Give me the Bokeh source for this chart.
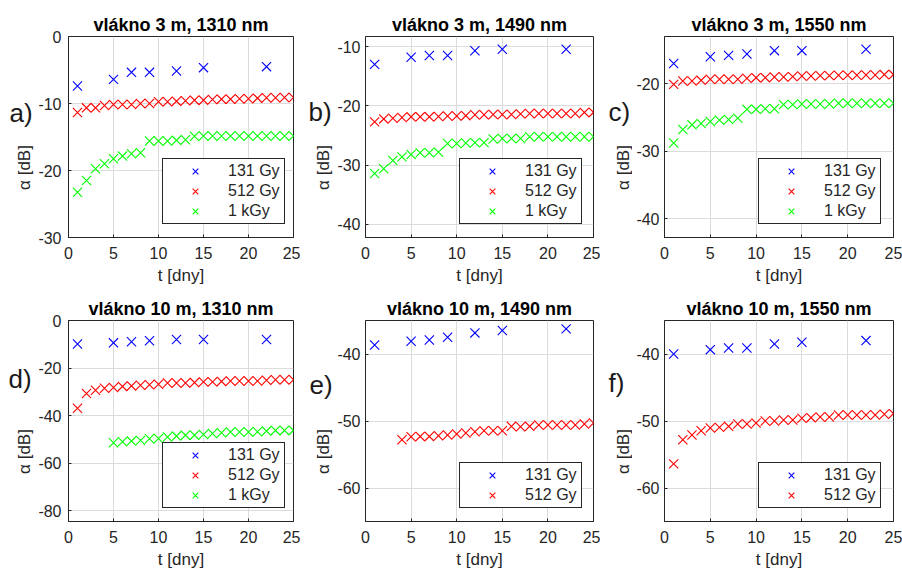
import math
from bokeh.plotting import figure
from bokeh.layouts import gridplot
from bokeh.models import FixedTicker, Range1d
from bokeh.core.properties import value
from bokeh.embed import file_html
from bokeh.resources import INLINE

# ---- data ----
days_blue = [1, 5, 7, 9, 12, 15, 22]
days_all = [1, 2, 3, 4, 5, 6, 7, 8, 9, 10, 11, 12, 13, 14, 15, 16, 17, 18, 19, 20, 21, 22, 23, 24, 25]
days_from5 = [5, 6, 7, 8, 9, 10, 11, 12, 13, 14, 15, 16, 17, 18, 19, 20, 21, 22, 23, 24, 25]
days_from4 = [4, 5, 6, 7, 8, 9, 10, 11, 12, 13, 14, 15, 16, 17, 18, 19, 20, 21, 22, 23, 24, 25]

a_blue = [-7.4, -6.4, -5.35, -5.35, -5.15, -4.65, -4.5]
a_red = [-11.35, -10.65, -10.65, -10.3, -10.15, -10.15, -10.15, -10.0, -10.0, -9.75, -9.75, -9.65, -9.6,
         -9.5, -9.5, -9.4, -9.35, -9.35, -9.3, -9.3, -9.2, -9.15, -9.15, -9.1, -9.1]
a_green = [-23.25, -21.5, -19.75, -19.0, -18.25, -17.85, -17.5, -17.35, -15.6, -15.6, -15.6, -15.5, -15.4,
           -14.9, -14.85, -14.85, -14.85, -14.85, -14.85, -14.85, -14.85, -14.85, -14.85, -14.85, -14.85]

b_blue = [-13.0, -11.8, -11.5, -11.5, -10.7, -10.45, -10.45]
b_red = [-22.7, -22.2, -22.1, -21.95, -21.85, -21.85, -21.85, -21.8, -21.7, -21.7, -21.65, -21.5, -21.5,
         -21.45, -21.45, -21.45, -21.35, -21.3, -21.3, -21.3, -21.3, -21.3, -21.3, -21.1, -21.1]
b_green = [-31.4, -30.6, -29.2, -28.6, -28.2, -27.9, -27.9, -27.8, -26.35, -26.35, -26.25, -26.2, -26.2,
           -25.6, -25.5, -25.5, -25.5, -25.2, -25.2, -25.2, -25.2, -25.2, -25.2, -25.2, -25.2]

c_blue = [-17.0, -16.0, -15.8, -15.6, -15.1, -15.1, -14.9]
c_red = [-20.1, -19.6, -19.6, -19.5, -19.35, -19.35, -19.35, -19.35, -19.2, -19.1, -19.1, -19.0, -19.0,
         -18.95, -18.85, -18.85, -18.8, -18.8, -18.75, -18.75, -18.75, -18.7, -18.7, -18.65, -18.65]
c_green = [-28.8, -26.8, -26.1, -25.9, -25.6, -25.4, -25.3, -25.1, -23.8, -23.8, -23.7, -23.7, -23.1,
           -23.1, -23.0, -23.0, -23.0, -23.0, -22.9, -22.9, -22.9, -22.9, -22.9, -22.9, -22.9]

d_blue = [-9.9, -9.4, -8.9, -8.5, -8.0, -8.0, -8.0]
d_red = [-36.9, -30.7, -29.3, -28.5, -28.2, -27.7, -27.5, -27.2, -27.0, -26.8, -26.3, -26.3, -26.3,
         -26.1, -25.8, -25.8, -25.6, -25.4, -25.4, -25.4, -25.4, -25.1, -24.9, -24.9, -24.9]
d_green = [-51.4, -51.0, -50.7, -50.4, -49.7, -49.6, -49.0, -48.6, -48.2, -48.2, -47.9, -47.5, -47.2,
           -46.9, -46.9, -46.9, -46.8, -46.5, -46.2, -46.2, -46.2]

e_blue = [-38.65, -38.1, -37.9, -37.5, -36.85, -36.5, -36.25]
e_red = [-52.8, -52.35, -52.3, -52.3, -52.2, -52.1, -51.95, -51.8, -51.6, -51.45, -51.45, -51.45,
         -50.8, -50.85, -50.8, -50.6, -50.6, -50.6, -50.6, -50.6, -50.45, -50.3]

f_blue = [-40.0, -39.35, -39.1, -39.1, -38.5, -38.25, -38.0]
f_red = [-56.4, -52.8, -52.1, -51.45, -51.05, -50.95, -50.8, -50.45, -50.45, -50.3, -50.0, -50.0, -49.85,
         -49.85, -49.6, -49.5, -49.4, -49.4, -49.1, -49.1, -49.1, -49.1, -49.1, -49.0, -48.9]

titles = ["vlákno 3 m, 1310 nm", "vlákno 3 m, 1490 nm", "vlákno 3 m, 1550 nm",
          "vlákno 10 m, 1310 nm", "vlákno 10 m, 1490 nm", "vlákno 10 m, 1550 nm"]
panel_letters = ["a)", "b)", "c)", "d)", "e)", "f)"]
series_labels = ["131 Gy", "512 Gy", "1 kGy"]
x_label = "t [dny]"
y_label = "α [dB]"
x_ticks = [0, 5, 10, 15, 20, 25]
y_ranges = [(-30, 0), (-42.2, -8.3), (-42.8, -13.0), (-84.5, 0), (-65, -35), (-65, -35)]
y_ticks = [[-30, -20, -10, 0], [-40, -30, -20, -10], [-40, -30, -20],
           [-80, -60, -40, -20, 0], [-60, -50, -40], [-60, -50, -40]]

panels_data = [
    [(days_blue, a_blue), (days_all, a_red), (days_all, a_green)],
    [(days_blue, b_blue), (days_all, b_red), (days_all, b_green)],
    [(days_blue, c_blue), (days_all, c_red), (days_all, c_green)],
    [(days_blue, d_blue), (days_all, d_red), (days_from5, d_green)],
    [(days_blue, e_blue), (days_from4, e_red)],
    [(days_blue, f_blue), (days_all, f_red)],
]
colors = ["#0000ff", "#ff0000", "#00ff00"]

# ---- layout geometry (pixels) ----
row_h = [287, 286]
row_top = [36, 33]
row_bottom = [50, 52]
FH = 201
# per column: side strip width, main left border, frame width, right border, tick label standoff
cols = [(34, 34, 225, 7, 7), (33, 32, 228, 7, 5), (32, 32, 229, 9, 5)]
# per panel: letter x (in strip) and letter baseline from row top
letter_pos = [(9, 76), (8, 75), (8, 75), (8, 58), (9, 64), (8, 62)]
ylab_x = [24, 23, 23]
ylab_from_top = 131

AX = "#262626"
grid_rows = []
for r in range(2):
    row_figs = []
    for c in range(3):
        i = r * 3 + c
        S, L, FW, R, std = cols[c]
        H = row_h[r]
        y0, y1 = y_ranges[i]

        # side strip carrying the panel letter and the y axis label
        s = figure(frame_width=S, frame_height=H, min_border=0, min_border_left=0,
                   min_border_right=0, min_border_top=0, min_border_bottom=0,
                   x_range=Range1d(0, S), y_range=Range1d(0, H), output_backend="svg",
                   toolbar_location=None, x_axis_location=None, y_axis_location=None)
        s.grid.visible = False
        s.outline_line_color = None
        s.background_fill_color = "white"
        s.border_fill_color = "white"
        lx, lb = letter_pos[i]
        s.text(x=[lx], y=[H - lb], text=[panel_letters[i]], text_font=value("Liberation Sans"),
               text_font_size="26px", text_color="#1a1a1a", text_baseline="alphabetic",
               text_align="left")
        s.text(x=[ylab_x[c]], y=[H - ylab_from_top], text=[y_label], angle=math.pi / 2,
               text_font=value("Liberation Sans"), text_font_size="17px", text_color=AX,
               text_baseline="middle", text_align="center")
        row_figs.append(s)

        p = figure(frame_width=FW, frame_height=FH, min_border_left=L, min_border_right=R,
                   min_border_top=row_top[r], min_border_bottom=row_bottom[r], output_backend="svg",
                   toolbar_location=None, x_range=Range1d(0, 25),
                   y_range=Range1d(y0, y1), title=titles[i])
        p.title.align = "center"
        p.title.text_font = "Liberation Sans"
        p.title.text_font_size = "18px"
        p.title.text_font_style = "bold"
        p.title.text_color = "#000000"
        p.title.standoff = 4
        p.background_fill_color = "white"
        p.border_fill_color = "white"
        p.outline_line_color = AX
        p.outline_line_alpha = 1
        p.outline_line_width = 1

        for ax in (p.xaxis[0], p.yaxis[0]):
            ax.axis_line_color = AX
            ax.major_tick_line_color = AX
            ax.major_tick_in = 3
            ax.major_tick_out = 0
            ax.minor_tick_line_color = None
            ax.major_label_text_font = "Liberation Sans"
            ax.major_label_text_font_size = "16px"
            ax.major_label_text_color = AX
            ax.axis_label_text_font = "Liberation Sans"
            ax.axis_label_text_font_size = "17px"
            ax.axis_label_text_font_style = "normal"
            ax.axis_label_text_color = AX
        p.xaxis.ticker = FixedTicker(ticks=x_ticks)
        p.yaxis.ticker = FixedTicker(ticks=y_ticks[i])
        p.yaxis.major_label_overrides = {t: "%d" % t for t in y_ticks[i]}
        p.xaxis.axis_label = x_label
        p.xaxis.major_label_standoff = 9
        p.yaxis.major_label_standoff = std
        p.xaxis.axis_label_standoff = 4

        p.grid.grid_line_color = "#dcdcdc"
        p.grid.grid_line_width = 1

        for k, (xs, ys) in enumerate(panels_data[i]):
            p.scatter(xs, ys, marker="x", size=13, line_color=colors[k], line_width=1.1,
                      legend_label=series_labels[k])

        lg = p.legend[0]
        lg.location = (94, 13)
        lg.border_line_color = AX
        lg.border_line_width = 1
        lg.border_line_alpha = 1
        lg.background_fill_color = "white"
        lg.background_fill_alpha = 1
        lg.padding = 2
        lg.spacing = 0
        lg.margin = 0
        lg.glyph_width = 60
        lg.glyph_height = 20
        lg.label_height = 20
        lg.label_width = 54
        lg.label_standoff = 3
        lg.label_text_font = "Liberation Sans"
        lg.label_text_font_size = "16px"
        lg.label_text_color = AX
        row_figs.append(p)
    grid_rows.append(row_figs)

grid = gridplot(grid_rows, toolbar_location=None)

open("out.html", "w").write(file_html(grid, INLINE))
